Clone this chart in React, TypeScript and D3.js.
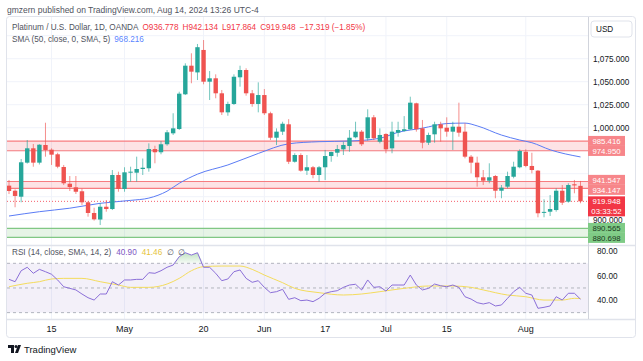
import React from 'react';
import * as d3 from 'd3';

// trading days shown (weekdays only, OANDA daily bars)
const firstDay = '2024-04-04';
const lastDay = '2024-08-14';

const opens = [
  937, 931.5, 925, 962, 977.6, 962, 981.2, 976.1, 971.1, 957.3,
  939.1, 935.2, 930.9, 918.9, 907.3, 900.2, 914.1, 911.6, 948.6, 933.4,
  951.1, 951.1, 955.1, 955.9, 976.8, 973.3, 982, 993.9, 998.6, 1036.3,
  1067.4, 1060.1, 1084.5, 1050, 1053.7, 1037.4, 1016.7, 1025.8, 1054.8, 1062.7,
  1037.4, 1025.8, 1035.5, 1015.7, 989.1, 995.7, 1003.7, 963, 970.3, 953.3,
  957, 948.6, 957, 969.2, 972.8, 976.5, 980.1, 989.6, 995.7, 988.5,
  1011.3, 984.8, 993.2, 977.6, 994.6, 996.5, 998.3, 1026.5, 999.3, 983.7,
  992.8, 1003.7, 1000, 995.7, 1001.1, 995.7, 968.5, 962, 946.1, 942.4,
  947.5, 931.5, 935.9, 946.7, 957, 973.9, 958.4, 953.3, 907.6, 908.7,
  910.5, 931.5, 919.6, 938.5, 936.778
];
const highs = [
  943.2, 933, 966, 986.6, 982.3, 982, 1005.4, 977.6, 972.8, 959.5,
  947.5, 947.5, 933.7, 920, 913, 918.2, 921.4, 954, 952.2, 957,
  957.6, 968.5, 966.5, 983, 980.4, 985.5, 997.5, 1015.7, 1039.1, 1070,
  1080.9, 1091, 1095.3, 1061.6, 1058, 1041, 1028.3, 1058, 1067.4, 1064.6,
  1041, 1049.3, 1042, 1017.4, 999.3, 1006.5, 1009.3, 972.2, 972.2, 970.3,
  958.4, 958.4, 975.8, 973.9, 981.2, 984.8, 997.5, 1006.5, 997.5, 1020,
  1013.8, 999.3, 993.9, 1006.5, 1006.5, 1012.6, 1033.7, 1027.2, 1008.4, 994.6,
  1006.5, 1006.5, 1011.3, 1006.5, 1027.2, 1004.8, 970.3, 968.5, 954, 961.3,
  948.6, 937.7, 952.2, 963, 976.5, 976.5, 972.8, 954, 922.2, 926.8,
  934.1, 937.7, 939.6, 943.2, 942.134
];
const lows = [
  927.9, 913.5, 918.9, 961, 957.6, 960, 968.5, 959.5, 955.9, 937.7,
  931.2, 928, 916, 903.3, 899, 894.2, 908.7, 910.5, 930.4, 930.4,
  941.3, 941.3, 948.6, 952.2, 961.3, 971.1, 980.4, 992.1, 997.5, 1035.5,
  1048.3, 1051.8, 1047.2, 1030.1, 1032, 1013.8, 1013, 1024.7, 1044.6, 1034.8,
  1022.8, 1016.7, 1013.8, 986.6, 981.2, 992.1, 960.5, 962, 952.2, 948.6,
  945, 941.3, 943.2, 963, 968.5, 970.3, 973.9, 988.5, 980.1, 985.9,
  986.6, 983, 972.2, 972.2, 990.2, 995.7, 997.5, 995.7, 977.6, 981.2,
  983.7, 984.8, 990.2, 975.8, 990.2, 966.7, 950.4, 935.9, 937.7, 939.6,
  923.3, 923.3, 934.1, 945, 955.9, 957, 950.4, 902.6, 902.6, 904,
  908.7, 916, 918.5, 928.7, 917.864
];
const closes = [
  931.2, 925.8, 962.4, 977.6, 962, 981.5, 975.8, 970.7, 957.6, 939.6,
  935.5, 930.4, 918.9, 907.3, 900.4, 914.1, 911.6, 948.6, 933.4, 951.5,
  952.2, 955.1, 956.5, 976.8, 973.3, 982, 995, 999.3, 1037, 1067.4,
  1060.9, 1087.5, 1050, 1053.7, 1037.4, 1016.7, 1025.8, 1055.4, 1062.7, 1037.4,
  1025.8, 1035.5, 1015.7, 989.1, 995.7, 1004.3, 963, 970.3, 953.3, 957,
  948.6, 957, 969.2, 973.6, 976.8, 981.2, 989.1, 995.7, 982, 1011.3,
  988.5, 992.1, 976.5, 995.7, 997.5, 998.3, 1027.2, 998.3, 983.7, 992.1,
  1003.7, 999.3, 995.7, 1001.1, 994.6, 968.5, 962, 946.1, 942.4, 946.1,
  931.5, 934.8, 947.5, 957.6, 974.7, 958.4, 954, 907, 908.5, 911.6,
  931.5, 918.5, 937.7, 937.27, 919.948
];

// SMA 50 at some bars
const smaIdx = [0, 5, 10, 15, 20, 23, 26, 28, 31, 36, 41, 46, 51, 56, 61, 64, 68, 72, 75, 77, 81, 84, 86, 89, 94];
const smaVal = [904, 908.7, 912.5, 917.8, 921, 923.5, 931, 939.6, 949.5, 959.5, 972, 982.5, 984.8, 985.5, 988.5, 995, 999.5, 1004.5, 1005, 1002, 992, 986.6, 983.7, 976, 968.216];

const rsiValues = [
  57, 55.1, 64, 66.8, 61.9, 65.1, 63.2, 61.1, 56.5, 51,
  49.7, 48.4, 45.1, 42.1, 40.2, 45.1, 45.1, 55.1, 52.4, 56.5,
  56.5, 57, 57, 62.4, 61.9, 64, 66.8, 68.6, 75.4, 78.6,
  76.7, 78.6, 66.8, 66.8, 61.9, 55.9, 57.3, 63.2, 64.6, 57.8,
  54.6, 55.9, 50.5, 46.2, 47, 48.9, 40.8, 42.1, 39.7, 40.2,
  38.9, 41.6, 45.7, 47, 47.8, 50.5, 52.4, 53, 48.4, 56.5,
  50.5, 51, 47.5, 52.4, 52.4, 52.4, 60.5, 52.4, 48.4, 49.7,
  53.2, 51.8, 51, 52.4, 50.5, 42.9, 41, 38.1, 37, 38.1,
  35.4, 36.2, 41.6, 47, 50.5, 45.7, 44.3, 33.5, 34.3, 35.4,
  42.9, 40.2, 45.7, 45.7, 40.9
];
const rsiMaIdx = [0, 3, 5, 7, 9, 12, 15, 18, 20, 23, 26, 28, 30, 32, 35, 38, 40, 42, 45, 47, 51, 55, 58, 61, 65, 69, 73, 76, 78, 82, 85, 88, 91, 93, 94];
const rsiMaVal = [51, 53.8, 55.1, 57.3, 57.8, 57.8, 55.1, 52.4, 50.5, 50.5, 53.2, 57.8, 64, 67.3, 67.8, 67.8, 65.1, 60.5, 54.3, 49.7, 46.2, 44.3, 45.1, 47, 49.7, 51.6, 51.6, 50.5, 48.4, 44.3, 42.9, 40.2, 40.2, 41.6, 41.46];

const tickDays = ['2024-04-15', '2024-05-01', '2024-05-20', '2024-06-03', '2024-06-17', '2024-07-01', '2024-07-15', '2024-08-01'];
const tickLabels = ['15', 'May', '20', 'Jun', '17', 'Jul', '15', 'Aug'];

const priceTicks = [900, 925, 950, 975, 1000, 1025, 1050, 1075];
const redZoneHigh = [985.416, 941.547];
const redZoneLow = [974.95, 934.147];
const greenZone = [890.565, 880.698];
const lastPrice = 919.948;
const countdown = '03:33:52';
const rsiTicks = [40, 60, 80];
const rsiLevels = [70, 50, 30];

const UP = '#26a69a';
const DOWN = '#ef5350';
const FONT = '"Liberation Sans", Arial, sans-serif';

const fmtP = d3.format(',.3f');
const parse = d3.utcParse('%Y-%m-%d');

const App = () => {
  const width = 643, height = 361;
  const left = 7, axisX = 588, right = 635;
  const top = 17, paneSplit = 245, timeTop = 319, bottom = 337;

  const days = d3.utcDay
    .range(parse(firstDay)!, d3.utcDay.offset(parse(lastDay)!, 1))
    .filter(d => d.getUTCDay() !== 0 && d.getUTCDay() !== 6);
  const keys = days.map(d3.utcFormat('%Y-%m-%d'));

  const x = d3.scaleLinear().domain([0, days.length - 1]).range([9, 580.5]);
  const y = d3.scaleLinear().domain([900, 1000]).range([219.7, 127.7]);
  const r = d3.scaleLinear().domain([40, 80]).range([300.3, 251]);
  const bw = 4.4;

  const smaLine = d3.line<number>()
    .x((_, i) => x(smaIdx[i]))
    .y(v => y(v))
    .curve(d3.curveMonotoneX)(smaVal);
  const rsiLine = d3.line<number>().x((_, i) => x(i)).y(v => r(v))(rsiValues);
  const rsiMaLine = d3.line<number>()
    .x((_, i) => x(rsiMaIdx[i]))
    .y(v => r(v))
    .curve(d3.curveMonotoneX)(rsiMaVal);
  const obArea = d3.area<number>()
    .x((_, i) => x(i))
    .y0(r(70))
    .y1(v => r(Math.max(v, 70)))(rsiValues);

  // axis label boxes, pushed apart where they overlap
  const boxH = 10;
  const red = '#f7868a', green = '#7fcb86';
  const boxes = [
    { v: redZoneHigh[0], c: red, t: '#fff', lines: [d3.format('.3f')(redZoneHigh[0])] },
    { v: redZoneLow[0], c: red, t: '#fff', lines: [d3.format('.3f')(redZoneLow[0])] },
    { v: redZoneHigh[1], c: red, t: '#fff', lines: [d3.format('.3f')(redZoneHigh[1])] },
    { v: redZoneLow[1], c: red, t: '#fff', lines: [d3.format('.3f')(redZoneLow[1])] },
    { v: lastPrice, c: '#f23645', t: '#fff', lines: [d3.format('.3f')(lastPrice), countdown] },
    { v: greenZone[0], c: green, t: '#1b3a1e', lines: [d3.format('.3f')(greenZone[0])] },
    { v: greenZone[1], c: green, t: '#1b3a1e', lines: [d3.format('.3f')(greenZone[1])] },
  ].map(d => ({ ...d, top: y(d.v) - boxH / 2, h: boxH * d.lines.length }));
  for (let pass = 0; pass < 3; pass++) {
    for (let k = 1; k < boxes.length; k++) {
      const a = boxes[k - 1], b = boxes[k];
      const over = a.top + a.h - b.top;
      if (over > 0) { a.top -= over / 2; b.top += over / 2; }
    }
  }
  // tick labels hidden behind a box, as TradingView does
  const shownTicks = priceTicks.filter(p =>
    !boxes.some(b => y(p) >= b.top - 2.5 && y(p) <= b.top + b.h + 2.5));

  return (
    <div style={{ position: 'fixed', left: 0, top: 0, width, height, background: '#fff' }}>
      <svg width={width} height={height} style={{ display: 'block', fontFamily: FONT }}>
        <defs>
          <clipPath id="mainClip"><rect x={left} y={top} width={axisX - left} height={paneSplit - top} /></clipPath>
          <clipPath id="rsiClip"><rect x={left} y={paneSplit} width={axisX - left} height={timeTop - paneSplit} /></clipPath>
          <linearGradient id="obGrad" x1="0" y1="0" x2="0" y2="1">
            <stop offset="0" stopColor="#4caf50" stopOpacity={0.35} />
            <stop offset="1" stopColor="#4caf50" stopOpacity={0.05} />
          </linearGradient>
        </defs>

        <text x={7} y={13} fontSize={8.5} fill="#50535e">
          gmzern published on TradingView.com, Aug 14, 2024 13:26 UTC-4
        </text>

        <rect x={left - 0.5} y={top - 0.5} width={right - left + 1} height={bottom - top + 1}
          fill="#fff" stroke="#e0e3eb" rx={3} />

        {/* grid */}
        {tickDays.map((d, i) => (
          <line key={'vg' + i} x1={x(keys.indexOf(d))} x2={x(keys.indexOf(d))} y1={top} y2={timeTop}
            stroke="#f0f3fa" />
        ))}
        {[...priceTicks, 1100].map(p => (
          <line key={'hg' + p} x1={left} x2={axisX} y1={y(p)} y2={y(p)} stroke="#f0f3fa" />
        ))}

        <g clipPath="url(#mainClip)">
          {/* zones */}
          {redZoneHigh.map((h, i) => (
            <g key={'rz' + i}>
              <rect x={left} y={y(h)} width={axisX - left} height={y(redZoneLow[i]) - y(h)} fill="#f23645" fillOpacity={0.14} />
              <line x1={left} x2={axisX} y1={y(h)} y2={y(h)} stroke="#f77c80" strokeWidth={1.2} />
              <line x1={left} x2={axisX} y1={y(redZoneLow[i])} y2={y(redZoneLow[i])} stroke="#f77c80" strokeWidth={1.2} />
            </g>
          ))}
          <rect x={left} y={y(greenZone[0])} width={axisX - left} height={y(greenZone[1]) - y(greenZone[0])} fill="#4caf50" fillOpacity={0.14} />
          <line x1={left} x2={axisX} y1={y(greenZone[0])} y2={y(greenZone[0])} stroke="#81c784" strokeWidth={1.2} />
          <line x1={left} x2={axisX} y1={y(greenZone[1])} y2={y(greenZone[1])} stroke="#81c784" strokeWidth={1.2} />

          <line x1={left} x2={axisX} y1={y(lastPrice)} y2={y(lastPrice)} stroke="#f23645" strokeDasharray="1,2" strokeOpacity={0.8} />

          <path d={smaLine ?? ''} fill="none" stroke="#5b7cf5" strokeWidth={1} />

          {closes.map((c, i) => {
            const o = opens[i];
            const col = c >= o ? UP : DOWN;
            const yt = y(Math.max(o, c)), yb = y(Math.min(o, c));
            return (
              <g key={'c' + i}>
                <line x1={x(i)} x2={x(i)} y1={y(highs[i])} y2={y(lows[i])} stroke={col} strokeOpacity={0.65} />
                <rect x={x(i) - bw / 2} y={yt} width={bw} height={Math.max(1, yb - yt)} fill={col} />
              </g>
            );
          })}
        </g>

        {/* legend */}
        <text y={30} fontSize={8.2}>
          <tspan x={12} fill="#50535e">Platinum / U.S. Dollar, 1D, OANDA</tspan>
          <tspan dx={4} fill="#f23645">O936.778</tspan>
          <tspan dx={4} fill="#f23645">H942.134</tspan>
          <tspan dx={4} fill="#f23645">L917.864</tspan>
          <tspan dx={4} fill="#f23645">C919.948</tspan>
          <tspan dx={4} fill="#f23645">−17.319 (−1.85%)</tspan>
        </text>
        <text y={42} fontSize={8.2}>
          <tspan x={12} fill="#50535e">SMA (50, close, 0, SMA, 5)</tspan>
          <tspan dx={4} fill="#2962ff" fillOpacity={0.8}>968.216</tspan>
        </text>

        {/* RSI pane */}
        <g clipPath="url(#rsiClip)">
          <rect x={left} y={r(70)} width={axisX - left} height={r(30) - r(70)} fill="#7e57c2" fillOpacity={0.09} />
          {rsiLevels.map(l => (
            <line key={'lv' + l} x1={left} x2={axisX} y1={r(l)} y2={r(l)} stroke="#b2b5be" strokeDasharray="3,3" />
          ))}
          <path d={obArea ?? ''} fill="url(#obGrad)" />
          <path d={rsiMaLine ?? ''} fill="none" stroke="#f3dc5c" strokeWidth={1} />
          <path d={rsiLine ?? ''} fill="none" stroke="#8b6fd8" strokeWidth={1} />
        </g>
        <text y={255} fontSize={8.2}>
          <tspan x={12} fill="#50535e">RSI (14, close, SMA, 14, 2)</tspan>
          <tspan dx={5} fill="#7e57c2">40.90</tspan>
          <tspan dx={5} fill="#e5c33a">41.46</tspan>
          <tspan dx={5} fill="#50535e">∅</tspan>
          <tspan dx={4} fill="#50535e">∅</tspan>
        </text>

        {/* separators */}
        <line x1={left} x2={right} y1={paneSplit + 0.5} y2={paneSplit + 0.5} stroke="#e0e3eb" strokeWidth={1.5} />
        <line x1={left} x2={right} y1={timeTop + 0.5} y2={timeTop + 0.5} stroke="#e0e3eb" strokeWidth={1.5} />
        <line x1={axisX + 0.5} x2={axisX + 0.5} y1={top} y2={timeTop} stroke="#d1d4dc" />

        {/* time axis */}
        {tickDays.map((d, i) => (
          <text key={'tl' + i} x={x(keys.indexOf(d))} y={332} fontSize={9} fill="#131722" textAnchor="middle">
            {tickLabels[i]}
          </text>
        ))}

        {/* price axis */}
        {shownTicks.map(p => (
          <text key={'pl' + p} x={593} y={y(p) + 3} fontSize={8.2} fill="#131722">{fmtP(p)}</text>
        ))}
        <rect x={591} y={21} width={41} height={16} rx={3} fill="#fff" stroke="#e0e3eb" />
        <text x={596} y={32} fontSize={8.2} fill="#131722">USD</text>

        {boxes.map((b, i) => (
          <g key={'lb' + i}>
            <rect x={588} y={b.top} width={37} height={b.h} fill={b.c} />
            {b.lines.map((s, j) => (
              <text key={j} x={606.5} y={b.top + boxH / 2 + 2.8 + j * boxH} fontSize={7.8} fill={b.t} textAnchor="middle">{s}</text>
            ))}
          </g>
        ))}

        {rsiTicks.map(t => (
          <text key={'rt' + t} x={597} y={r(t) + 3} fontSize={8.2} fill="#131722">{d3.format('.2f')(t)}</text>
        ))}

        {/* logo */}
        <g fill="#131722">
          <path d="M8 345 h6 v8 h-3 v-5 h-3 z" />
          <circle cx={16} cy={346.5} r={1.5} />
          <path d="M18 345 h3 l-3 8 h-3 z" />
        </g>
        <text x={24} y={352.5} fontSize={9.5} fill="#131722">TradingView</text>
      </svg>
    </div>
  );
};

export default App;
